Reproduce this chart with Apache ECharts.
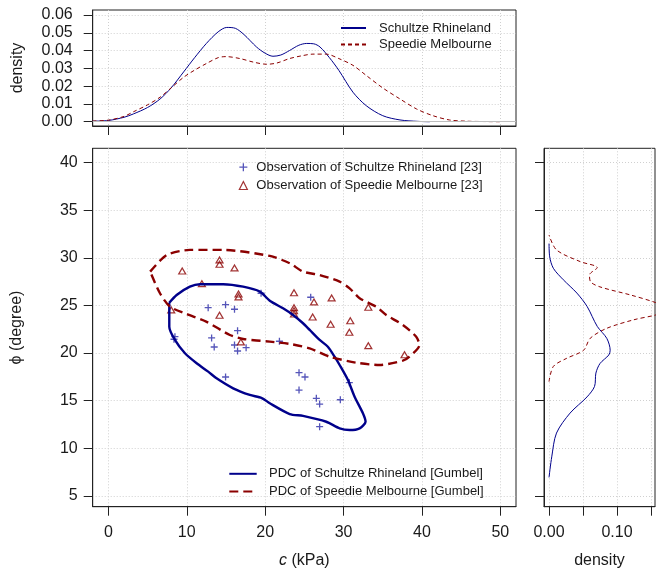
<!DOCTYPE html>
<html><head><meta charset="utf-8">
<script src="https://cdn.jsdelivr.net/npm/echarts@6/dist/echarts.min.js"></script>
<style>html,body{margin:0;padding:0;background:#fff}#c{width:656px;height:574px}</style>
</head><body><div id="c"></div>
<script>
// ---------- tick labels ----------
const cTicks = [0, 10, 20, 30, 40, 50];
const phiTicks = [5, 10, 15, 20, 25, 30, 35, 40];
const densTopTicks = [0, 0.01, 0.02, 0.03, 0.04, 0.05, 0.06];
const densRightTicks = [0, 0.05, 0.10, 0.15];
const densRightLabels = [0, 0.10];

// ---------- marginal density of c (top panel): [c, density] ----------
const densTopSchultze = [[-2,0.0003],[0,0.0007],[2,0.0025],[3.2,0.0044],[5,0.008],[6.6,0.0128],[8,0.019],[9.6,0.028],[11,0.036],[12.5,0.044],[14,0.0505],[15.1,0.053],[16.2,0.0525],[17.3,0.049],[18.9,0.042],[20,0.0385],[21,0.0368],[22,0.0375],[23.1,0.040],[24.3,0.043],[25.3,0.044],[26.2,0.0438],[27,0.042],[28.2,0.036],[29.4,0.0289],[31.2,0.0166],[32.9,0.009],[35,0.0034],[37.2,0.001],[39.5,0.0002],[41,0]];
const densTopSpeedie = [[-2,0.0004],[0,0.0009],[2,0.003],[3.2,0.0056],[5,0.0095],[6.6,0.0138],[8,0.019],[9.6,0.025],[11,0.029],[12.5,0.0327],[14,0.036],[15,0.0366],[16.8,0.0355],[18.5,0.0335],[20.2,0.0323],[21.5,0.033],[23.1,0.0355],[24.6,0.037],[26.1,0.038],[27.8,0.038],[29.4,0.0355],[31.2,0.0317],[32.9,0.026],[35,0.019],[37.2,0.0128],[39.3,0.0072],[41.4,0.0034],[43.5,0.001],[45.7,0.0003],[48,0.0001],[50,0]];

// ---------- marginal density of phi (right panel): [density, phi] ----------
const densRightSchultze = [[0,6.95],[0.004,9.1],[0.011,11.6],[0.031,13.7],[0.056,15.4],[0.067,16.5],[0.069,17.9],[0.075,18.9],[0.088,19.8],[0.090,20.3],[0.085,21.55],[0.071,22.8],[0.056,24.9],[0.041,26.3],[0.021,27.7],[0.0064,28.9],[0.001,30.1],[0,31.5]];
const densRightSpeedie = [[0,17.0],[0.0064,18.6],[0.026,19.45],[0.051,20.3],[0.0606,21.55],[0.085,22.6],[0.125,23.5],[0.157,24.0],[0.18,24.6],[0.157,25.3],[0.12,26.1],[0.075,26.95],[0.061,27.5],[0.0596,28.2],[0.071,28.97],[0.046,29.6],[0.011,30.83],[0,32.4]];

// ---------- observations: [c (kPa), phi (degree)] ----------
const obsSchultze = [[19.48,26.28],[12.73,24.77],[14.95,25.08],[16.09,24.60],[16.48,22.35],[8.49,21.72],[8.37,21.45],[13.17,21.59],[13.50,20.64],[16.09,20.85],[16.48,20.22],[17.57,20.57],[14.95,17.49],[25.81,25.86],[21.82,21.24],[24.32,17.94],[25.08,17.49],[24.32,16.12],[30.74,16.89],[26.53,15.25],[26.95,14.65],[29.59,15.1],[26.95,12.27]];
const obsSpeedie = [[9.42,28.62],[14.18,29.78],[14.18,29.33],[16.09,28.94],[11.93,27.29],[16.6,26.2],[16.6,25.9],[8.02,24.53],[14.18,23.97],[16.9,21.17],[23.68,26.34],[26.23,25.37],[28.48,25.79],[23.68,24.77],[23.68,24.45],[23.68,24.1],[26.06,23.79],[28.35,23.03],[30.86,23.4],[30.74,22.18],[33.16,24.81],[33.16,20.78],[37.78,19.83]];

// ---------- PDC contours: [c, phi] ----------
const pdcSchultze = [[7.77,25.29],[8.71,26.1],[10.4,26.97],[11.68,27.23],[14.64,27.23],[17.19,26.97],[19.32,26.45],[20.59,25.5],[22.28,24.7],[23.56,24.0],[24.83,23.13],[25.68,22.43],[26.95,21.38],[28.0,20.67],[28.86,19.62],[29.5,18.75],[30.56,17.17],[31.41,15.42],[32.47,13.68],[32.81,12.79],[32.05,12.1],[30.77,11.92],[29.5,12.1],[27.8,12.79],[24.83,13.4],[23.13,13.6],[20.59,14.73],[19.57,15.28],[18.04,15.6],[15.92,16.3],[13.8,17.35],[12.73,18.05],[11.26,18.93],[9.77,19.98],[8.49,21.38],[7.77,22.77],[7.77,25.29]];
const pdcSpeedie = [[5.33,28.55],[7.44,30.3],[10.4,30.83],[14.64,30.83],[20.59,30.2],[23.13,29.43],[24.83,28.55],[26.95,28.2],[29.5,27.5],[30.77,26.8],[32.05,25.76],[34.17,24.87],[35.45,24.0],[37.56,22.95],[39.27,21.72],[39.68,20.85],[38.41,19.62],[37.56,19.2],[34.6,18.75],[31.63,18.99],[28.23,19.62],[25.68,20.5],[23.13,20.96],[20.59,21.2],[17.19,21.48],[15.5,21.9],[12.48,23.3],[9.98,24.1],[7.86,24.87],[6.58,26.28],[5.33,28.55]];

// ---------- styling ----------
const BLUE = '#00008B', RED = '#8B0000', PLUS = '#2b2ba8';
const FONT = '"Liberation Sans", Arial, Helvetica, sans-serif';
const TXT = '#1a1a1a';
const gridLine = {show: true, lineStyle: {color: '#d0d0d0', type: [1, 2], width: 1}};
const axLine = {show: true, onZero: false, lineStyle: {color: '#222', width: 1}};
const tick = (vals) => ({show: true, length: 9, customValues: vals, lineStyle: {color: '#222', width: 1}});
const PLUS_PATH = 'path://M0,5L10,5M5,0L5,10';

const chart = echarts.init(document.getElementById('c'), null, {renderer: 'canvas'});
const frame = {show: true, borderColor: '#222', borderWidth: 1, backgroundColor: 'transparent', containLabel: false};
const legText = (pad) => ({fontSize: 13, color: TXT, fontFamily: FONT, lineHeight: 14, padding: [0, 0, 0, pad]});

chart.setOption({
  animation: false,
  textStyle: {fontFamily: FONT, color: TXT},
  grid: [
    Object.assign({left: 92.7, top: 10, width: 423.3, height: 116}, frame),
    Object.assign({left: 92.7, top: 148.3, width: 423.3, height: 358.4}, frame),
    Object.assign({left: 544, top: 148.3, width: 111, height: 358.4}, frame)
  ],
  xAxis: [
    {type: 'value', gridIndex: 0, min: -2, max: 52, axisLine: axLine, axisTick: tick(cTicks),
     axisLabel: {show: false}, splitLine: gridLine},
    {type: 'value', gridIndex: 1, min: -2, max: 52, axisLine: axLine, axisTick: tick(cTicks),
     axisLabel: {show: true, customValues: cTicks, fontSize: 16, margin: 18, color: TXT, fontFamily: FONT},
     splitLine: gridLine,
     name: '{i|c} (kPa)', nameLocation: 'middle', nameGap: 46,
     nameTextStyle: {fontSize: 16, color: TXT, fontFamily: FONT, rich: {i: {fontStyle: 'italic', fontSize: 16, color: TXT, fontFamily: FONT}}}},
    {type: 'value', gridIndex: 2, min: -0.0074, max: 0.156, axisLine: axLine, axisTick: tick(densRightTicks),
     axisLabel: {show: true, customValues: densRightLabels, formatter: v => v.toFixed(2), fontSize: 16, margin: 18, color: TXT, fontFamily: FONT},
     splitLine: gridLine,
     name: 'density', nameLocation: 'middle', nameGap: 46, nameTextStyle: {fontSize: 16, color: TXT, fontFamily: FONT}}
  ],
  yAxis: [
    {type: 'value', gridIndex: 0, min: -0.0024, max: 0.0628, axisLine: axLine, axisTick: tick(densTopTicks),
     axisLabel: {show: true, customValues: densTopTicks, formatter: v => v.toFixed(2), fontSize: 16, margin: 20, color: TXT, fontFamily: FONT},
     splitLine: gridLine,
     name: 'density', nameLocation: 'middle', nameGap: 67, nameTextStyle: {fontSize: 16, color: TXT, fontFamily: FONT}},
    {type: 'value', gridIndex: 1, min: 3.87, max: 41.5, axisLine: axLine, axisTick: tick(phiTicks),
     axisLabel: {show: true, customValues: phiTicks, fontSize: 16, margin: 15, color: TXT, fontFamily: FONT},
     splitLine: gridLine,
     name: 'ϕ (degree)', nameLocation: 'middle', nameGap: 68, nameTextStyle: {fontSize: 16, color: TXT, fontFamily: FONT}},
    {type: 'value', gridIndex: 2, min: 3.87, max: 41.5, axisLine: axLine, axisTick: tick(phiTicks),
     axisLabel: {show: false}, splitLine: gridLine}
  ],
  legend: [
    {orient: 'vertical', left: 340, top: 21, padding: 0, itemWidth: 25, itemHeight: 14, itemGap: 2.6,
     textStyle: legText(8), itemStyle: {opacity: 0, color: 'rgba(0,0,0,0)', borderWidth: 0},
     data: ['Schultze Rhineland', 'Speedie Melbourne'], selectedMode: false},
    {orient: 'vertical', left: 238.7, top: 160.2, padding: 0, itemWidth: 8, itemHeight: 8, itemGap: 4.3,
     textStyle: legText(4),
     data: [
       {name: 'Observation of Schultze Rhineland [23]', icon: PLUS_PATH, itemStyle: {color: PLUS, borderColor: PLUS, borderWidth: 1.3}},
       {name: 'Observation of Speedie Melbourne [23]', icon: 'triangle', itemStyle: {color: 'rgba(255,255,255,0)', borderColor: RED, borderWidth: 1.2}}
     ], selectedMode: false},
    {orient: 'vertical', left: 228.3, top: 466.8, padding: 0, itemWidth: 27.4, itemHeight: 14, itemGap: 3.7,
     textStyle: legText(7.3), itemStyle: {opacity: 0, color: 'rgba(0,0,0,0)', borderWidth: 0},
     data: ['PDC of Schultze Rhineland [Gumbel]', 'PDC of Speedie Melbourne [Gumbel]'], selectedMode: false}
  ],
  series: [
    {name: 'Schultze Rhineland', type: 'line', xAxisIndex: 0, yAxisIndex: 0, data: densTopSchultze,
     symbol: 'none', smooth: 0.3, lineStyle: {color: BLUE, width: 1}, itemStyle: {color: BLUE},
     markLine: {silent: true, symbol: 'none', label: {show: false}, lineStyle: {color: '#bdbdbd', type: 'solid', width: 1}, data: [{yAxis: 0}]}},
    {name: 'Speedie Melbourne', type: 'line', xAxisIndex: 0, yAxisIndex: 0, data: densTopSpeedie,
     symbol: 'none', smooth: 0.3, lineStyle: {color: RED, width: 1, type: [4, 3]}, itemStyle: {color: RED}},
    {name: 'PDC of Schultze Rhineland [Gumbel]', type: 'line', xAxisIndex: 1, yAxisIndex: 1, data: pdcSchultze,
     symbol: 'none', smooth: 0.25, lineStyle: {color: BLUE, width: 2.4}, itemStyle: {color: BLUE}},
    {name: 'PDC of Speedie Melbourne [Gumbel]', type: 'line', xAxisIndex: 1, yAxisIndex: 1, data: pdcSpeedie,
     symbol: 'none', smooth: 0.25, lineStyle: {color: RED, width: 2.4, type: [9, 5]}, itemStyle: {color: RED}},
    {name: 'Observation of Schultze Rhineland [23]', type: 'scatter', xAxisIndex: 1, yAxisIndex: 1, data: obsSchultze,
     symbol: PLUS_PATH, symbolSize: 7, itemStyle: {color: PLUS, borderColor: PLUS, borderWidth: 1.3}},
    {name: 'Observation of Speedie Melbourne [23]', type: 'scatter', xAxisIndex: 1, yAxisIndex: 1, data: obsSpeedie,
     symbol: 'triangle', symbolSize: [7, 6], itemStyle: {color: 'rgba(255,255,255,0)', borderColor: RED, borderWidth: 1.2}},
    {name: 'phi density Schultze', type: 'line', xAxisIndex: 2, yAxisIndex: 2, data: densRightSchultze,
     symbol: 'none', smooth: 0.3, lineStyle: {color: BLUE, width: 1}},
    {name: 'phi density Speedie', type: 'line', xAxisIndex: 2, yAxisIndex: 2, data: densRightSpeedie,
     symbol: 'none', smooth: 0.3, lineStyle: {color: RED, width: 1, type: [4, 3]}}
  ]
});
</script></body></html>
